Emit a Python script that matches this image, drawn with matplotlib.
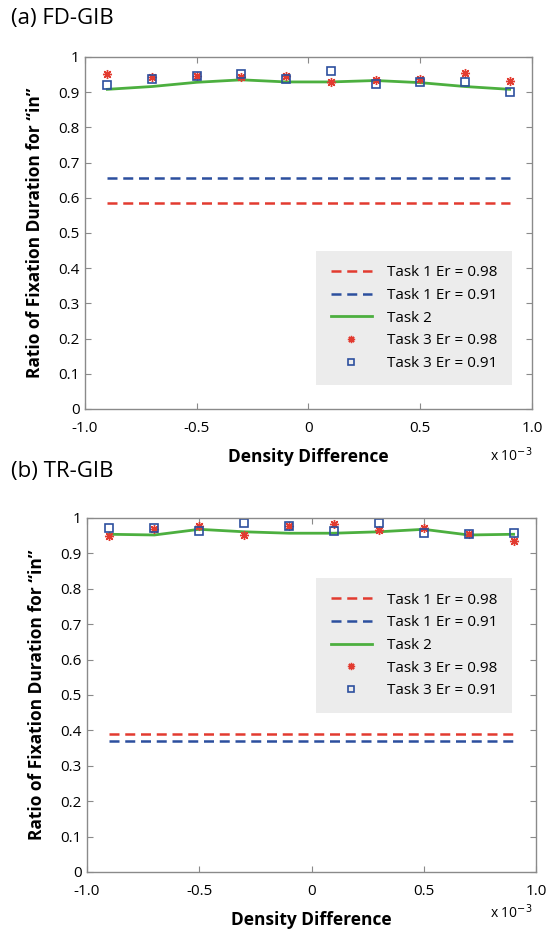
import matplotlib.pyplot as plt
import numpy as np

plt.rcParams['font.family'] = ['Open Sans', 'DejaVu Sans']

# density difference (x 1e-3)
dens = [-0.9, -0.7, -0.5, -0.3, -0.1, 0.1, 0.3, 0.5, 0.7, 0.9]

# (a) FD-GIB
fd_task1_098 = 0.585
fd_task1_091 = 0.655
fd_task2 = [0.908, 0.916, 0.928, 0.935, 0.929, 0.929, 0.933, 0.927, 0.916, 0.908]
fd_task3_098 = [0.952, 0.944, 0.946, 0.942, 0.946, 0.930, 0.935, 0.938, 0.955, 0.931]
fd_task3_091 = [0.921, 0.936, 0.946, 0.952, 0.938, 0.961, 0.924, 0.930, 0.930, 0.900]

# (b) TR-GIB
tr_task1_098 = 0.39
tr_task1_091 = 0.37
tr_task2 = [0.954, 0.952, 0.968, 0.961, 0.957, 0.957, 0.961, 0.968, 0.952, 0.954]
tr_task3_098 = [0.949, 0.969, 0.978, 0.952, 0.977, 0.983, 0.967, 0.973, 0.954, 0.936]
tr_task3_091 = [0.972, 0.971, 0.964, 0.986, 0.977, 0.964, 0.986, 0.958, 0.955, 0.957]

xticks = [-1.0, -0.5, 0, 0.5, 1.0]
xticklabels = ['-1.0', '-0.5', '0', '0.5', '1.0']
yticks = np.arange(0, 1.01, 0.1)
yticklabels = ['0'] + ['%.1f' % v for v in yticks[1:-1]] + ['1']

RED = '#e23b30'
BLUE = '#2c4f9e'
GREEN = '#4caf3f'
FRAME = '#8a8a8a'

fig = plt.figure(figsize=(5.53, 9.35), dpi=100)


def draw_panel(ax, t1a, t1b, t2, t3a, t3b, title, title_y, exp_y, leg_anchor):
    x = np.array(dens)
    ax.plot([x[0], x[-1]], [t1a, t1a], ls=(0, (4, 2.3)), color=RED, lw=1.8,
            label='Task 1 Er = 0.98')
    ax.plot([x[0], x[-1]], [t1b, t1b], ls=(0, (4, 2.3)), color=BLUE, lw=1.8,
            label='Task 1 Er = 0.91')
    ax.plot(x, t2, color=GREEN, lw=2.0, label='Task 2')
    ax.plot(x, t3a, ls='none', marker=(8, 2, 0), ms=6.5, mew=1.0, color=RED,
            label='Task 3 Er = 0.98')
    ax.plot(x, t3b, ls='none', marker='s', ms=5.2, mew=1.2, mfc='none', mec=BLUE,
            label='Task 3 Er = 0.91')
    ax.set_xlim(-1, 1)
    ax.set_ylim(0, 1)
    ax.set_xticks(xticks)
    ax.set_xticklabels(xticklabels)
    ax.set_yticks(yticks)
    ax.set_yticklabels(yticklabels)
    ax.tick_params(direction='in', length=4, width=0.8, color=FRAME,
                   top=True, right=True, labelsize=11)
    ax.tick_params(axis='x', pad=9)
    ax.tick_params(axis='y', pad=4)
    for s in ax.spines.values():
        s.set_color(FRAME)
        s.set_linewidth(1.0)
    ax.set_xlabel('Density Difference', fontsize=12.5, fontweight='bold', labelpad=8)
    ax.set_ylabel('Ratio of Fixation Duration for \u201cin\u201d', fontsize=12.5,
                  fontweight='bold', labelpad=10)
    leg = ax.legend(loc='upper left', bbox_to_anchor=leg_anchor,
                    frameon=True, fancybox=False, fontsize=11, handlelength=2.7,
                    handletextpad=1.0, labelspacing=0.5, borderpad=0.95,
                    borderaxespad=0, markerscale=0.8)
    leg.get_frame().set_facecolor('#ececec')
    leg.get_frame().set_edgecolor('none')
    leg.get_frame().set_alpha(1)
    fig.text(0.02, title_y, title, fontsize=16, va='center', ha='left')
    fig.text(0.886, exp_y, r'x 10$^{-3}$', fontsize=10, va='center', ha='left')


ax1 = fig.add_axes([0.1537, 0.5626, 0.8083, 0.3765])
draw_panel(ax1, fd_task1_098, fd_task1_091, fd_task2, fd_task3_098, fd_task3_091,
           '(a) FD-GIB', 0.980, 0.513, (0.517, 0.449))

ax2 = fig.add_axes([0.1573, 0.0674, 0.812, 0.3786])
draw_panel(ax2, tr_task1_098, tr_task1_091, tr_task2, tr_task3_098, tr_task3_091,
           '(b) TR-GIB', 0.496, 0.024, (0.51, 0.83))

fig.savefig('out.png', dpi=100)
